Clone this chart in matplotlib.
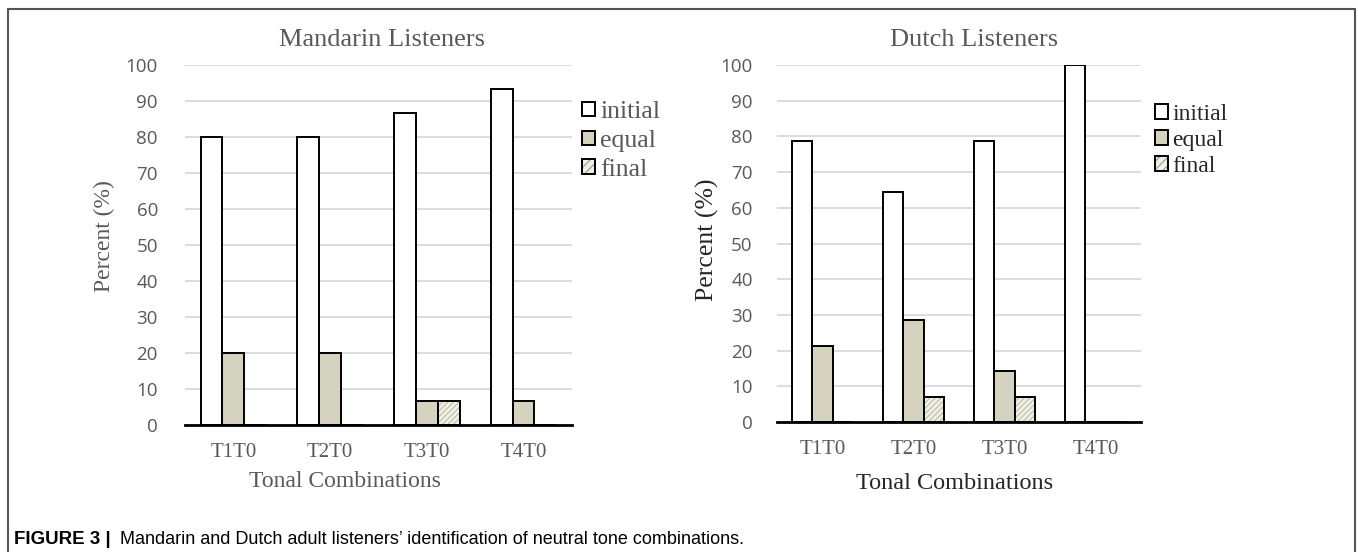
import matplotlib.pyplot as plt
from matplotlib.patches import Rectangle, Patch
import numpy as np

categories = ['T1T0', 'T2T0', 'T3T0', 'T4T0']
series_names = ['initial', 'equal', 'final']

mandarin_initial = [80.0, 80.0, 86.7, 93.3]
mandarin_equal = [20.0, 20.0, 6.7, 6.7]
mandarin_final = [0.0, 0.0, 6.7, 0.0]

dutch_initial = [78.6, 64.3, 78.6, 100.0]
dutch_equal = [21.4, 28.6, 14.3, 0.0]
dutch_final = [0.0, 7.1, 7.1, 0.0]

y_ticks = [0, 10, 20, 30, 40, 50, 60, 70, 80, 90, 100]

SERIF = 'Liberation Serif'
TICKFONT = 'Open Sans'
GRID = '#d9d9d9'
EQUAL_C = '#d5d3c0'
FINAL_C = '#f1f0e6'
HATCH_C = '#bdbbaa'

plt.rcParams['hatch.linewidth'] = 0.8


def draw_panel(ax, initial, equal, final, opts):
    """
    Draw one grouped bar panel in the Excel-like style of the figure
    :param opts: dict with title, colours, sizes and label positions
    """
    x = np.arange(len(categories))
    w = 0.225
    ax.bar(x - w, initial, w, color='white', edgecolor='black', linewidth=1.4, zorder=3)
    ax.bar(x, equal, w, color=EQUAL_C, edgecolor='black', linewidth=1.4, zorder=3)
    # hatched fill first (hatch takes the edge colour), then a black outline on top
    ax.bar(x + w, final, w, color=FINAL_C, edgecolor=HATCH_C, linewidth=0,
           hatch='//////', zorder=3)
    ax.bar(x + w, final, w, fill=False, edgecolor='black', linewidth=1.4, zorder=3)

    ax.set_xlim(-0.5, len(categories) - 0.5)
    ax.set_ylim(0, 100)
    ax.set_yticks(y_ticks)
    ax.set_yticklabels([str(t) for t in y_ticks], fontfamily=TICKFONT, fontsize=13.5, color='#595959')
    ax.set_xticks(x)
    ax.set_xticklabels(categories, fontfamily=SERIF, fontsize=15, color='#595959')
    ax.tick_params(axis='y', length=0, pad=opts['ytick_pad'])
    ax.tick_params(axis='x', length=0, pad=13)
    ax.yaxis.grid(True, color=GRID, linewidth=1.3, zorder=0)
    ax.set_axisbelow(True)
    for s in ['top', 'right', 'left']:
        ax.spines[s].set_visible(False)
    ax.spines['bottom'].set_linewidth(2)
    ax.spines['bottom'].set_zorder(4)

    ax.set_title(opts['title'], fontfamily=SERIF, fontsize=19, color='#595959',
                 x=opts['title_x'], pad=14)
    ax.set_ylabel('Percent (%)', fontfamily=SERIF, fontsize=opts['ylab_size'],
                  color=opts['text_color'], va='center')
    ax.yaxis.set_label_coords(*opts['ylab_xy'])
    ax.set_xlabel('Tonal Combinations', fontfamily=SERIF, fontsize=opts['xlab_size'],
                  color=opts['text_color'], va='center')
    ax.xaxis.set_label_coords(*opts['xlab_xy'])

    handles = [Patch(facecolor='white', edgecolor='black', linewidth=1.4),
               Patch(facecolor=EQUAL_C, edgecolor='black', linewidth=1.4),
               Patch(facecolor=FINAL_C, edgecolor='black', linewidth=1.4, hatch='////')]
    leg = ax.legend(handles, series_names, loc='upper left', bbox_to_anchor=opts['leg_anchor'],
                    frameon=False, prop={'family': SERIF, 'size': opts['leg_size']},
                    handlelength=opts['handle'], handleheight=opts['handle'], handletextpad=0.2,
                    labelspacing=opts['leg_spacing'], borderaxespad=0.0, borderpad=0.0)
    for t in leg.get_texts():
        t.set_color(opts['text_color'])
    for h in leg.legend_handles:
        if h.get_hatch():
            h._hatch_color = (0.6, 0.6, 0.55, 1.0)


fig = plt.figure(figsize=(13.58, 5.52), dpi=100)

ax1 = fig.add_axes([0.1362, 0.2301, 0.285, 0.6521])
draw_panel(ax1, mandarin_initial, mandarin_equal, mandarin_final, {
    'title': 'Mandarin Listeners', 'title_x': 0.51, 'text_color': '#595959', 'ytick_pad': 19.5,
    'ylab_size': 17, 'ylab_xy': (-0.209, 0.525), 'xlab_size': 17, 'xlab_xy': (0.413, -0.156),
    'leg_size': 18.5, 'leg_anchor': (1.026, 0.90), 'leg_spacing': 0.27, 'handle': 0.5})

ax2 = fig.add_axes([0.5722, 0.2355, 0.268, 0.6467])
draw_panel(ax2, dutch_initial, dutch_equal, dutch_final, {
    'title': 'Dutch Listeners', 'title_x': 0.54, 'text_color': '#262626', 'ytick_pad': 17.5,
    'ylab_size': 18.5, 'ylab_xy': (-0.192, 0.51), 'xlab_size': 17.5, 'xlab_xy': (0.489, -0.171),
    'leg_size': 17, 'leg_anchor': (1.038, 0.891), 'leg_spacing': 0.21, 'handle': 0.55})

# outer frame of the figure panel
fig.add_artist(Rectangle((8 / 1358, -0.01), 1347 / 1358, 1 - 9 / 552 + 0.01,
                         transform=fig.transFigure, fill=False, edgecolor='#555555', linewidth=1.5))

fig.text(14 / 1358, 1 - 539 / 552, 'FIGURE 3 |', fontfamily='Liberation Sans', fontweight='bold',
         fontsize=13.5, va='center', ha='left')
fig.text(120 / 1358, 1 - 539 / 552,
         'Mandarin and Dutch adult listeners\u2019 identification of neutral tone combinations.',
         fontfamily='Liberation Sans', fontsize=13, va='center', ha='left')

fig.savefig('out.png', dpi=100)
